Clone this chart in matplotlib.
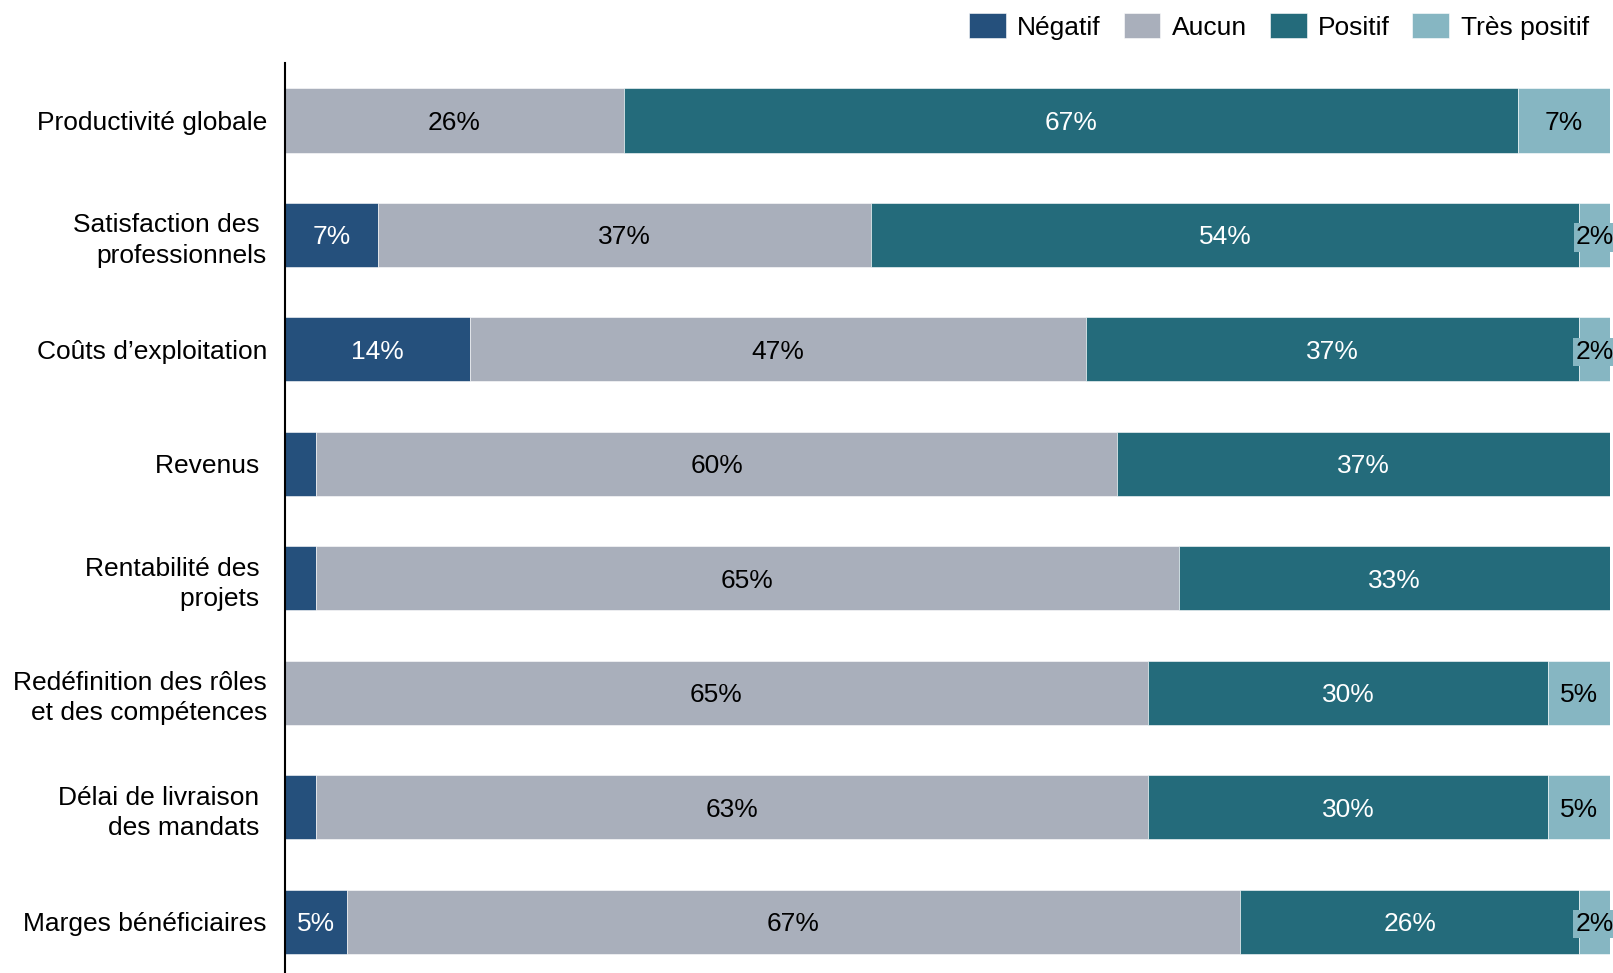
import matplotlib.pyplot as plt

plt.rcParams["font.family"] = ["Liberation Sans", "DejaVu Sans"]

categories = [
    "Productivité globale",
    "Satisfaction des \nprofessionnels",
    "Coûts d’exploitation",
    "Revenus ",
    "Rentabilité des \nprojets ",
    "Redéfinition des rôles\net des compétences",
    "Délai de livraison \ndes mandats ",
    "Marges bénéficiaires",
]

# share of respondents (%) per impact level
negatif = [0.0, 6.98, 13.95, 2.33, 2.33, 0.0, 2.33, 4.65]
aucun = [25.58, 37.21, 46.51, 60.47, 65.12, 65.12, 62.79, 67.44]
positif = [67.44, 53.5, 37.21, 37.21, 32.56, 30.23, 30.23, 25.58]
tres_positif = [6.98, 2.33, 2.33, 0.0, 0.0, 4.65, 4.65, 2.33]

series = [
    ("Négatif", negatif, "#25507c", "white"),
    ("Aucun", aucun, "#a9afbb", "black"),
    ("Positif", positif, "#246b7b", "white"),
    ("Très positif", tres_positif, "#86b6c2", "black"),
]

FS = 19

fig = plt.figure(figsize=(16.13, 9.73), dpi=100)
ax = fig.add_axes([0.1767, -0.006, 0.8215, 0.941])

y = list(range(len(categories)))
left = [0.0] * len(categories)
for name, vals, color, txt in series:
    ax.barh(y, vals, left=left, height=0.56, color=color,
            edgecolor="white", linewidth=0.4, label=name)
    for i, v in enumerate(vals):
        # the thinnest negative slices go unlabeled
        if v > 0 and not (name == "Négatif" and v < 3):
            cx = left[i] + v / 2
            kw = {}
            if v < 3:
                kw["bbox"] = dict(facecolor=color, edgecolor="none", pad=1.5)
            ax.text(cx, i, f"{v:.0f}%", ha="center", va="center_baseline",
                    color=txt, fontsize=FS, **kw)
    left = [l + v for l, v in zip(left, vals)]

ax.set_xlim(0, 100)
ax.set_ylim(len(categories) - 0.5, -0.5)
ax.set_yticks(y)
ax.set_yticklabels(categories, fontsize=FS, linespacing=1.33)
ax.tick_params(axis="y", length=0, pad=13)
ax.set_xticks([])
for side in ["top", "right", "bottom"]:
    ax.spines[side].set_visible(False)
ax.spines["left"].set_linewidth(1.5)

ax.legend(loc="center right", bbox_to_anchor=(0.984, 1.04), ncol=4,
          frameon=False, fontsize=FS, handlelength=1.4, handleheight=1.06,
          handletextpad=0.43, columnspacing=0.86, borderaxespad=0,
          borderpad=0)

fig.savefig("out.png", dpi=100)
